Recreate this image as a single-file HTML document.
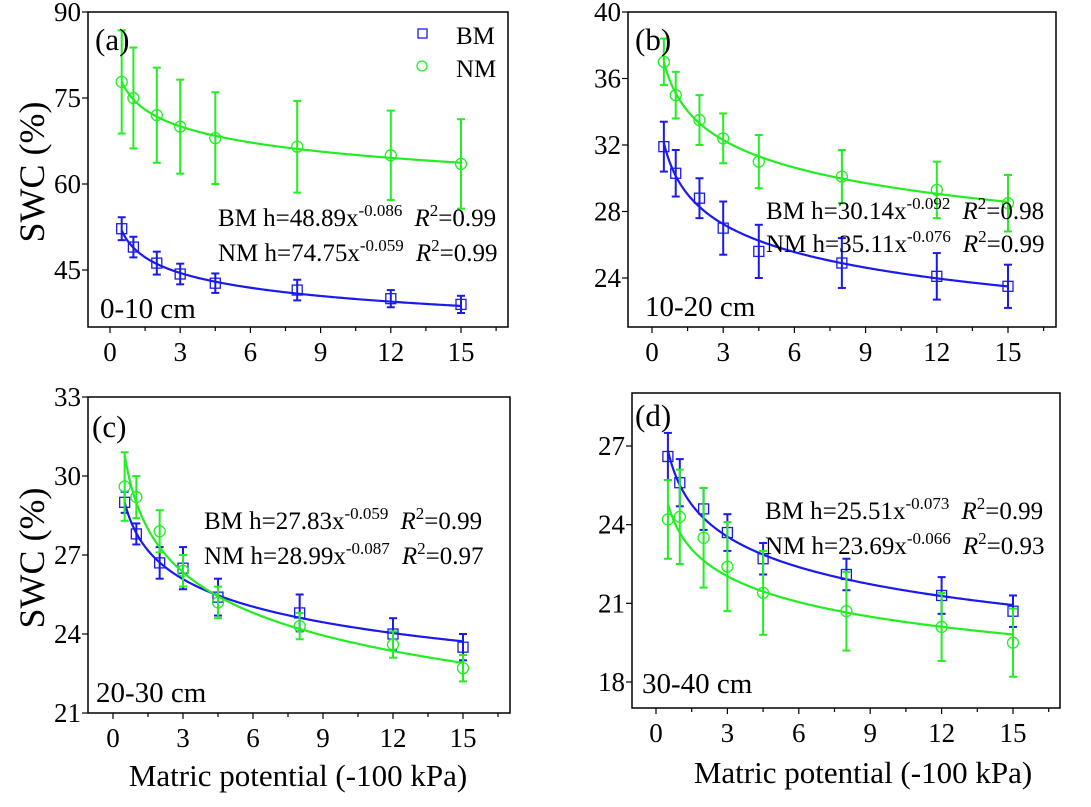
<!DOCTYPE html>
<html><head><meta charset="utf-8"><style>
html,body{margin:0;padding:0;background:#fff;font-family:"Liberation Serif","Times New Roman","DejaVu Serif",serif;}
svg text{font-family:"Liberation Serif","Times New Roman","DejaVu Serif",serif !important;}
</style></head><body>
<svg id="fig" width="1091" height="802" style="font-family:'Liberation Serif','Times New Roman','DejaVu Serif',serif" xmlns="http://www.w3.org/2000/svg">
<text x="0" y="0" transform="translate(44,172) rotate(-90)" text-anchor="middle" font-size="36">SWC (%)</text>
<text x="0" y="0" transform="translate(44,558) rotate(-90)" text-anchor="middle" font-size="36">SWC (%)</text>
<text x="298" y="786" text-anchor="middle" font-size="31">Matric potential (-100 kPa)</text>
<text x="863" y="783" text-anchor="middle" font-size="31">Matric potential (-100 kPa)</text>
</svg>
<script>
const xs = [0.5, 1, 2, 3, 4.5, 8, 12, 15];
const xTicks = [0, 3, 6, 9, 12, 15];
// panel a
const aBM = [52.2, 49, 46.2, 44.3, 42.7, 41.5, 40, 39];
const aBMerr = [2, 1.8, 2, 1.8, 1.7, 1.8, 1.5, 1.5];
const aNM = [77.8, 75, 72, 70, 68, 66.5, 65, 63.5];
const aNMerr = [9, 8.8, 8.3, 8.2, 8, 8, 7.8, 7.8];
const aFitBM = [48.89, -0.086];
const aFitNM = [74.75, -0.059];
const aYTicks = [45, 60, 75, 90];
// panel b
const bBM = [31.9, 30.3, 28.8, 27, 25.6, 24.9, 24.1, 23.5];
const bBMerr = [1.5, 1.4, 1.2, 1.6, 1.6, 1.5, 1.4, 1.3];
const bNM = [37, 35, 33.5, 32.4, 31, 30.1, 29.3, 28.5];
const bNMerr = [1.4, 1.4, 1.5, 1.5, 1.6, 1.6, 1.7, 1.7];
const bFitBM = [30.14, -0.092];
const bFitNM = [35.11, -0.076];
const bYTicks = [24, 28, 32, 36, 40];
// panel c
const cBM = [29, 27.8, 26.7, 26.5, 25.4, 24.8, 24, 23.5];
const cBMerr = [0.4, 0.4, 0.6, 0.8, 0.7, 0.7, 0.6, 0.5];
const cNM = [29.6, 29.2, 27.9, 26.4, 25.2, 24.3, 23.6, 22.7];
const cNMerr = [1.3, 0.8, 0.8, 0.6, 0.6, 0.5, 0.5, 0.5];
const cFitBM = [27.83, -0.059];
const cFitNM = [28.99, -0.087];
const cYTicks = [21, 24, 27, 30, 33];
// panel d
const dBM = [26.6, 25.6, 24.6, 23.7, 22.7, 22.1, 21.3, 20.7];
const dBMerr = [0.9, 0.9, 0.8, 0.7, 0.6, 0.6, 0.7, 0.6];
const dNM = [24.2, 24.3, 23.5, 22.4, 21.4, 20.7, 20.1, 19.5];
const dNMerr = [1.5, 1.8, 1.9, 1.7, 1.6, 1.5, 1.3, 1.3];
const dFitBM = [25.51, -0.073];
const dFitNM = [23.69, -0.066];
const dYTicks = [18, 21, 24, 27];

const NS = "http://www.w3.org/2000/svg";
const svg = document.getElementById('fig');
function mk(tag, attrs, parent, txt){
  const e = document.createElementNS(NS, tag);
  for (const k in attrs) e.setAttribute(k, attrs[k]);
  if (txt !== undefined) e.textContent = txt;
  (parent || svg).appendChild(e);
  return e;
}
const BLUE = "#1a1aee", GREEN = "#22ee22";

function panel(p){
  const g = mk('g', {});
  
  
  const X = v => p.x0px + (v - 0) * (p.x15px - p.x0px) / 15;
  const Y = v => p.yA + (v - p.vA) * (p.yB - p.yA) / (p.vB - p.vA);
  const fr = mk('rect', {x:p.L, y:p.T, width:p.R - p.L, height:p.B - p.T, fill:'none', stroke:'#000', 'stroke-width':1.5}, g);
  
  
  for (let v = 0; v <= 16.5; v += 1.5){
    const major = xTicks.includes(v);
    mk('line', {x1:X(v), x2:X(v), y1:p.B, y2:p.B + (major ? 6 : 4), stroke:'#000', 'stroke-width':1.2}, g);
  }
  xTicks.forEach(v => {
    const t = mk('text', {x:X(v), y:p.B + 34, 'text-anchor':'middle', 'font-size':27}, g, String(v));
    
    
  });
  p.yTicks.forEach(v => {
    mk('line', {x1:p.L - 6, x2:p.L, y1:Y(v), y2:Y(v), stroke:'#000', 'stroke-width':1.2}, g);
    const t = mk('text', {x:p.L - 7, y:Y(v) + 9, 'text-anchor':'end', 'font-size':27}, g, String(v));
    
    
  });
  function series(vals, errs, fit, color, shape, name){
    const sg = mk('g', {}, g);
    
    
    let d = '';
    for (let i = 0; i <= 200; i++){
      const xv = 0.5 + i * (15 - 0.5) / 200;
      const yv = fit[0] * Math.pow(xv, fit[1]);
      d += (i ? 'L' : 'M') + X(xv).toFixed(2) + ',' + Y(yv).toFixed(2);
    }
    const fl = mk('path', {d:d, fill:'none', stroke:color, 'stroke-width':2.2}, sg);
    
    
    xs.forEach((xv, i) => {
      const cx = X(xv), cy = Y(vals[i]), y1 = Y(vals[i] + errs[i]), y2 = Y(vals[i] - errs[i]);
      mk('line', {x1:cx, x2:cx, y1:y1, y2:y2, stroke:color, 'stroke-width':2}, sg);
      mk('line', {x1:cx - 4, x2:cx + 4, y1:y1, y2:y1, stroke:color, 'stroke-width':2}, sg);
      mk('line', {x1:cx - 4, x2:cx + 4, y1:y2, y2:y2, stroke:color, 'stroke-width':2}, sg);
      let m;
      if (shape === 'sq') m = mk('rect', {x:cx - 5, y:cy - 5, width:10, height:10, fill:'none', stroke:color, 'stroke-width':1.3}, sg);
      else m = mk('circle', {cx:cx, cy:cy, r:5.5, fill:'none', stroke:color, 'stroke-width':1.3}, sg);
      
      
    });
  }
  series(p.bm, p.bmErr, p.fitBM, BLUE, 'sq', 'bm');
  series(p.nm, p.nmErr, p.fitNM, GREEN, 'ci', 'nm');
  const lab = mk('text', {x:p.labX, y:p.labY, 'font-size':31}, g, '(' + p.id + ')');
  
  
  const dep = mk('text', {x:p.depX, y:p.depY, 'font-size':29}, g, p.depth);
  
  
  function eq(y, nm, fit, r2){
    const t = mk('text', {x:p.eqX, y:y, 'font-size':25}, g);
    
    
    mk('tspan', {}, t, nm + ' h=' + fit[0].toFixed(2) + 'x');
    mk('tspan', {dy:-10, 'font-size':17}, t, fit[1].toFixed(3));
    mk('tspan', {dy:10, dx:12, 'font-style':'italic'}, t, 'R');
    mk('tspan', {dy:-10, 'font-size':17}, t, '2');
    mk('tspan', {dy:10}, t, '=' + r2);
  }
  eq(p.eqY1, 'BM', p.fitBM, p.r2[0]);
  eq(p.eqY2, 'NM', p.fitNM, p.r2[1]);
}

panel({id:'a', L:88, T:12, R:508, B:327, x0px:110, x15px:461, yA:270, vA:45, yB:98, vB:75, yTicks:aYTicks,
  bm:aBM, bmErr:aBMerr, nm:aNM, nmErr:aNMerr, fitBM:aFitBM, fitNM:aFitNM, r2:['0.99','0.99'],
  labX:95, labY:50, depX:100, depY:318, depth:'0-10 cm', eqX:218, eqY1:226, eqY2:261});
panel({id:'b', L:628, T:12, R:1056, B:327, x0px:652, x15px:1008, yA:278, vA:24, yB:145, vB:32, yTicks:bYTicks,
  bm:bBM, bmErr:bBMerr, nm:bNM, nmErr:bNMerr, fitBM:bFitBM, fitNM:bFitNM, r2:['0.98','0.99'],
  labX:635, labY:50, depX:645, depY:316, depth:'10-20 cm', eqX:766, eqY1:219, eqY2:252});
panel({id:'c', L:88, T:397, R:510, B:713, x0px:113, x15px:463, yA:634, vA:24, yB:476, vB:30, yTicks:cYTicks,
  bm:cBM, bmErr:cBMerr, nm:cNM, nmErr:cNMerr, fitBM:cFitBM, fitNM:cFitNM, r2:['0.99','0.97'],
  labX:92, labY:437, depX:96, depY:702, depth:'20-30 cm', eqX:204, eqY1:529, eqY2:564});
panel({id:'d', L:632, T:393, R:1060, B:708, x0px:656, x15px:1013, yA:682, vA:18, yB:446, vB:27, yTicks:dYTicks,
  bm:dBM, bmErr:dBMerr, nm:dNM, nmErr:dNMerr, fitBM:dFitBM, fitNM:dFitNM, r2:['0.99','0.93'],
  labX:635, labY:426, depX:642, depY:693, depth:'30-40 cm', eqX:765, eqY1:519, eqY2:554});

const lg = mk('g', {});


const l1 = mk('rect', {x:418, y:29, width:9, height:9, fill:'none', stroke:BLUE, 'stroke-width':1.3}, lg);


mk('text', {x:456, y:44, 'font-size':25}, lg, 'BM');
const l2 = mk('circle', {cx:422, cy:66, r:5, fill:'none', stroke:GREEN, 'stroke-width':1.3}, lg);


mk('text', {x:456, y:77, 'font-size':25}, lg, 'NM');
</script>
</body></html>
